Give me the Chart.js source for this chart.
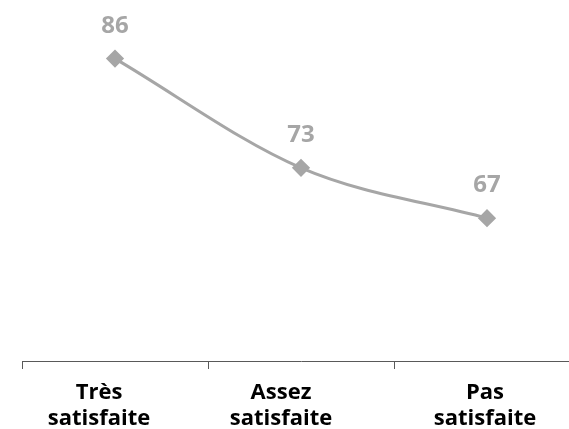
<!DOCTYPE html>
<html>
<head>
<meta charset="utf-8">
<script src="https://cdn.jsdelivr.net/npm/chart.js@4/dist/chart.umd.min.js"></script>
<style>
  html, body { margin: 0; padding: 0; background: #fff; overflow: hidden; }
  #clip { width: 569px; height: 429px; overflow: hidden; position: relative; }
  #wrap { width: 590px; height: 429px; position: absolute; left: 0; top: 0; }
</style>
</head>
<body>
<div id="clip"><div id="wrap"><canvas id="satisfaction_chart"></canvas></div></div>
<script>
// chart values
const categories = [["Très", "satisfaite"], ["Assez", "satisfaite"], ["Pas", "satisfaite"]];
const scores = [86, 73, 67];
const yMin = 50;
const yMax = 90;

// draw the value above each point (no datalabels plugin here)
const valueLabels = {
    id: 'valueLabels',
    afterDatasetsDraw(chart) {
        const ctx = chart.ctx;
        const meta = chart.getDatasetMeta(0);
        ctx.save();
        ctx.font = 'bold 24px "Open Sans"';
        ctx.fillStyle = '#a6a6a6';
        ctx.textAlign = 'center';
        ctx.textBaseline = 'alphabetic';
        meta.data.forEach(function (pt, i) {
            ctx.fillText(String(scores[i]), pt.x, pt.y - 26);
        });
        ctx.restore();
    }
};

// category names under the axis, nudged like in the original picture
const labelNudge = [-16, -20, -2];
const categoryLabels = {
    id: 'categoryLabels',
    afterDraw(chart) {
        const ctx = chart.ctx;
        const xs = chart.scales.x;
        ctx.save();
        ctx.font = 'bold 22px "Open Sans"';
        ctx.fillStyle = '#000';
        ctx.textAlign = 'center';
        ctx.textBaseline = 'alphabetic';
        categories.forEach(function (lines, i) {
            const x = xs.getPixelForValue(i) + labelNudge[i];
            lines.forEach(function (line, j) {
                ctx.fillText(line, x, xs.top + 38 + j * 26);
            });
        });
        ctx.restore();
    }
};

const ctx = document.getElementById('satisfaction_chart').getContext('2d');
const myChart = new Chart(ctx, {
    type: 'line',
    data: {
        labels: categories,
        datasets: [{
            data: scores,
            borderColor: '#a6a6a6',
            backgroundColor: '#a6a6a6',
            borderWidth: 3,
            cubicInterpolationMode: 'monotone',
            pointStyle: 'rectRot',
            pointRadius: 7,
            pointHoverRadius: 7
        }]
    },
    options: {
        responsive: true,
        maintainAspectRatio: false,
        animation: false,
        layout: { padding: { top: 25, left: 22, right: 5, bottom: 60 } },
        plugins: {
            legend: { display: false },
            tooltip: { enabled: false }
        },
        scales: {
            x: {
                offset: true,
                grid: {
                    display: true,
                    offset: true,
                    drawOnChartArea: false,
                    drawTicks: true,
                    tickLength: 8,
                    color: '#595959'
                },
                border: { display: true, color: '#595959', width: 1 },
                ticks: { display: false }
            },
            y: {
                display: false,
                min: yMin,
                max: yMax
            }
        }
    },
    plugins: [valueLabels, categoryLabels]
});
</script>
</body>
</html>
